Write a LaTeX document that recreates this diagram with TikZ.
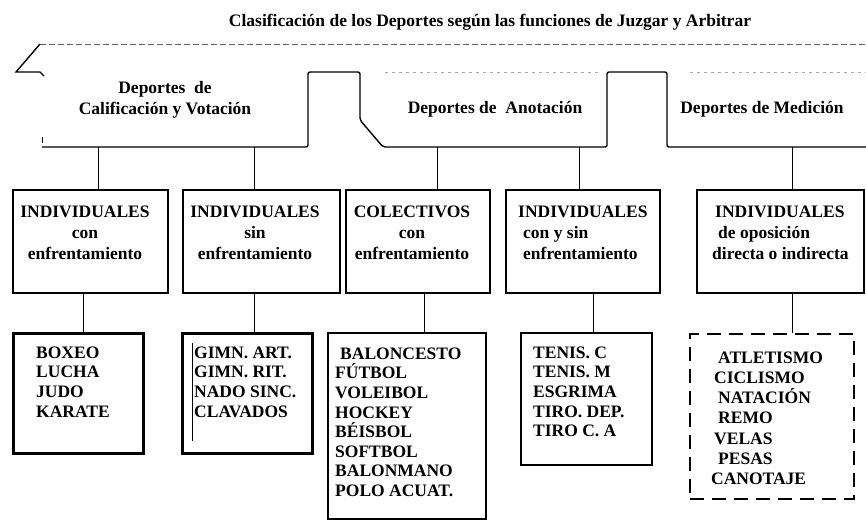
\documentclass[tikz,border=0pt]{standalone}
\usepackage{fontspec}
\setmainfont{Liberation Serif}
\usetikzlibrary{positioning}

\begin{document}
\begin{tikzpicture}[x=1pt, y=-1pt,
catline/.style={black, line width=1.4pt, rounded corners=2pt},
faint/.style={black!60, line width=0.7pt, dash pattern=on 6pt off 3pt},
grp/.style={rectangle, draw=black, line width=1.6pt, inner sep=0pt},
lst/.style={rectangle, draw=black, line width=3pt, inner sep=0pt},
txt/.style={inner sep=0pt, font=\bfseries\fontsize{17.5}{21}\selectfont},
lsttxt/.style={inner sep=0pt, align=left, anchor=north west, font=\bfseries\fontsize{17.5}{19.6}\selectfont},
link/.style={black, line width=0.9pt}
]
\useasboundingbox (0,0) rectangle (866,522);
\node[txt, anchor=base] (title) at (490,26) {Clasificación de los Deportes según las funciones de Juzgar y Arbitrar};
\draw[faint] (40,44) -- (866,44);
\draw[catline, rounded corners=0pt] (40,44) -- (16,72) -- (40,72) -- (44,76);
\draw[catline] (42,147) -- (308,147) -- (308,72) -- (360,72) -- (360,120) -- (383,147) -- (607,147) -- (607,72) -- (667,72) -- (667,147) -- (866,147);
\draw[faint, black!35, dash pattern=on 3pt off 4pt] (385,72) -- (600,72);
\draw[faint, black!35, dash pattern=on 3pt off 4pt] (690,72) -- (866,72);
\draw[link] (42,137) -- (42,143);
\node[txt, align=center, anchor=base] (calif) at (165,114) {Deportes\ \ de\\Calificación y Votación};
\node[txt, anchor=base] (anot) at (495,113) {Deportes de\ \ Anotación};
\node[txt, anchor=base] (medic) at (762,113) {Deportes de Medición};
\coordinate (c1) at (98,147);
\coordinate (c2) at (254,147);
\coordinate (c3) at (437,147);
\coordinate (c4) at (579,147);
\coordinate (c5) at (792,147);
\node[grp, minimum width=155pt, minimum height=103pt] (indA) at (90.5,241.5) {};
\node[grp, minimum width=157pt, minimum height=103pt] (indB) at (261.5,241.5) {};
\node[grp, minimum width=144pt, minimum height=103pt] (colC) at (418,241.5) {};
\node[grp, minimum width=154pt, minimum height=103pt] (indD) at (583,241.5) {};
\node[grp, minimum width=167pt, minimum height=103pt] (indE) at (780.5,241.5) {};
\draw[link] (c1) -- (c1 |- indA.north);
\draw[link] (c2) -- (c2 |- indB.north);
\draw[link] (c3) -- (c3 |- colC.north);
\draw[link] (c4) -- (c4 |- indD.north);
\draw[link] (c5) -- (c5 |- indE.north);
\node[txt, align=center, anchor=north] (indA-t) at (85,205.5) {INDIVIDUALES\\con\\enfrentamiento};
\node[txt, align=center, anchor=north] (indB-t) at (255,205.5) {INDIVIDUALES\\sin\\enfrentamiento};
\node[txt, align=center, anchor=north] (colC-t) at (412,205.5) {COLECTIVOS\\con\\enfrentamiento};
\node[txt, align=left, anchor=north west] (indD-t) at (518,205.5) {INDIVIDUALES\\\hspace*{5pt}con y sin\\\hspace*{5pt}enfrentamiento};
\node[txt, align=left, anchor=north west] (indE-t) at (712,205.5) {\hspace*{3pt}INDIVIDUALES\\\hspace*{6pt}de oposición\\directa o indirecta};
\node[lst, minimum width=130pt, minimum height=120pt] (boxA) at (78,393) {};
\node[lst, minimum width=130pt, minimum height=120pt] (boxB) at (247,393) {};
\node[lst, line width=2.6pt, minimum width=158pt, minimum height=186pt] (boxC) at (407,426) {};
\node[lst, line width=2.6pt, minimum width=131pt, minimum height=132pt] (boxD) at (586.5,399) {};
\node[rectangle, draw=black, line width=1.3pt, dash pattern=on 14pt off 8pt, minimum width=164pt, minimum height=165pt] (boxE) at (772,416.5) {};
\coordinate (d1) at (83,293);
\coordinate (d2) at (254,293);
\coordinate (d3) at (424,293);
\coordinate (d4) at (593,293);
\coordinate (d5) at (792,293);
\draw[link] (d1) -- (d1 |- boxA.north);
\draw[link] (d2) -- (d2 |- boxB.north);
\draw[link] (d3) -- (d3 |- boxC.north);
\draw[link] (d4) -- (d4 |- boxD.north);
\draw[link] (d5) -- (d5 |- boxE.north);
\draw[link, line width=0.8pt] (192,343) -- (192,441);
\node[lsttxt] (boxA-t) at (36,346.5) {BOXEO\\LUCHA\\JUDO\\KARATE};
\node[lsttxt] (boxB-t) at (194,346.5) {GIMN. ART.\\GIMN. RIT.\\NADO SINC.\\CLAVADOS};
\node[lsttxt] (boxC-t) at (335,347.5) {\hspace*{5pt}BALONCESTO\\FÚTBOL\\VOLEIBOL\\HOCKEY\\BÉISBOL\\SOFTBOL\\BALONMANO\\POLO ACUAT.};
\node[lsttxt] (boxD-t) at (533,346.5) {TENIS. C\\TENIS. M\\ESGRIMA\\TIRO. DEP.\\TIRO C. A};
\node[lsttxt, font=\bfseries\fontsize{17.5}{20.2}\selectfont] (boxE-t) at (711,351.5) {\hspace*{7pt}ATLETISMO\\\hspace*{3pt}CICLISMO\\\hspace*{7pt}NATACIÓN\\\hspace*{7pt}REMO\\\hspace*{3pt}VELAS\\\hspace*{7pt}PESAS\\CANOTAJE};
\end{tikzpicture}
\end{document}
